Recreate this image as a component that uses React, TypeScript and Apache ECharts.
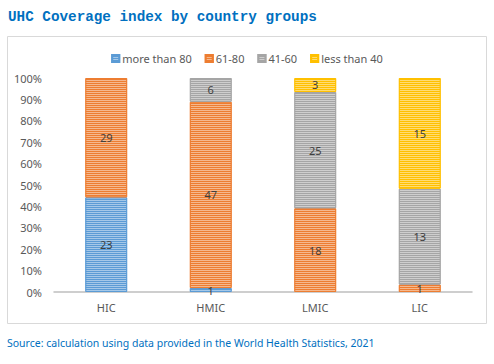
import React, { useEffect, useRef } from "react";
import * as echarts from "echarts";

const categories = ["HIC", "HMIC", "LMIC", "LIC"];
const seriesNames = ["more than 80", "61-80", "41-60", "less than 40"];
const moreThan80 = [23, 1, 0, 0];
const range61to80 = [29, 47, 18, 1];
const range41to60 = [0, 6, 25, 13];
const lessThan40 = [0, 0, 3, 15];
const yTicks = [0, 10, 20, 30, 40, 50, 60, 70, 80, 90, 100];
const colors = ["#5B9BD5", "#ED7D31", "#A5A5A5", "#FFC000"];

export default function App() {
  const ref = useRef<HTMLDivElement>(null);
  useEffect(() => {
    const chart = echarts.init(ref.current!, null, { renderer: "svg" });
    const raw = [moreThan80, range61to80, range41to60, lessThan40];
    const totals = categories.map((_, i) => raw.reduce((s, a) => s + a[i], 0));
    const decal = {
      symbol: "rect",
      symbolSize: 1,
      dashArrayX: [[1, 0]],
      dashArrayY: [1, 1],
      color: "rgba(255,255,255,0.45)",
      rotation: 0,
    };
    chart.setOption({
      animation: false,
      title: {
        text: "UHC Coverage index by country groups",
        left: 3,
        top: 5,
        textStyle: {
          fontFamily: "Liberation Mono",
          fontSize: 14.3,
          fontWeight: "bold",
          color: "#0070C0",
        },
      },
      legend: {
        top: 48,
        left: "center",
        itemWidth: 7,
        itemHeight: 7,
        itemGap: 13,
        icon: "rect",
        data: seriesNames,
        textStyle: { fontFamily: "Noto Sans", fontSize: 11, color: "#595959", padding: [0, 0, 0, -2] },
      },
      grid: { left: 54, right: 22, top: 78, bottom: 72 },
      xAxis: {
        type: "category",
        data: categories,
        axisLine: { lineStyle: { color: "#BFBFBF", width: 1.5 } },
        axisTick: { show: false },
        axisLabel: { fontFamily: "Noto Sans", fontSize: 11, color: "#595959", margin: 10 },
      },
      yAxis: {
        type: "value",
        min: 0,
        max: 100,
        interval: 10,
        splitLine: { show: false },
        axisLabel: {
          fontFamily: "Noto Sans",
          fontSize: 11,
          color: "#595959",
          margin: 12,
          formatter: (v: number) => (yTicks.includes(v) ? v + "%" : ""),
        },
      },
      graphic: [
        {
          type: "rect",
          shape: { x: 7.5, y: 36.5, width: 479, height: 287 },
          style: { fill: "none", stroke: "#D9D9D9", lineWidth: 1 },
          silent: true,
        },
        {
          type: "text",
          left: 7,
          top: 337,
          style: {
            text: "Source: calculation using data provided in the World Health Statistics, 2021",
            fontFamily: "Noto Sans",
            fontSize: 10.5,
            fill: "#0070C0",
          },
        },
      ],
      series: raw.map((arr, si) => ({
        name: seriesNames[si],
        type: "bar",
        stack: "total",
        barWidth: "40%",
        data: arr.map((v, i) => (v ? { value: (v / totals[i]) * 100, raw: v } : "-")),
        itemStyle: { color: colors[si], borderColor: colors[si], borderWidth: 1, decal },
        label: {
          show: true,
          position: "inside",
          fontFamily: "Noto Sans",
          fontSize: 11,
          color: "#404040",
          formatter: (p: any) => (p.data && p.data.raw ? String(p.data.raw) : ""),
        },
      })),
    });
    return () => chart.dispose();
  }, []);
  return <div ref={ref} style={{ width: 494, height: 364, position: "absolute", left: 0, top: 0 }} />;
}
